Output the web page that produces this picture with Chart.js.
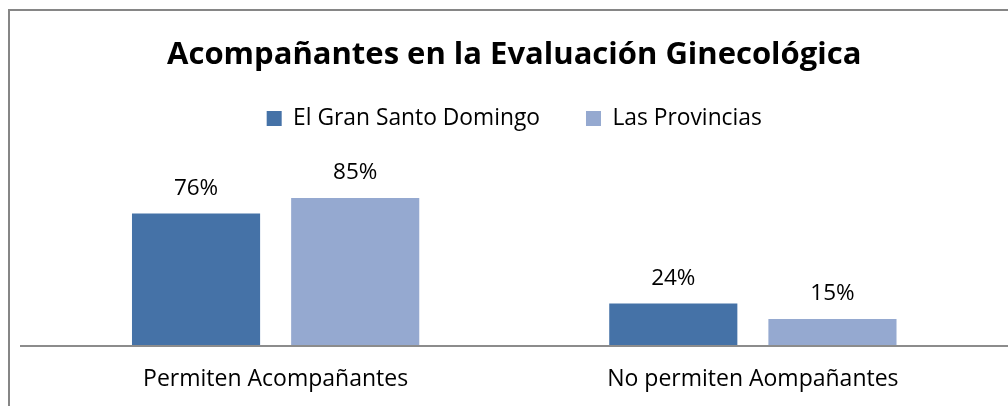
<!DOCTYPE html>
<html lang="es">
<head>
    <meta charset="UTF-8">
    <title>Acompañantes en la Evaluación Ginecológica</title>
    <style>
        html, body { margin: 0; padding: 0; background: #fff; }
        #wrap { width: 1008px; height: 406px; position: relative; }
    </style>
</head>
<body>
    <div id="wrap"><canvas id="myChart" width="1008" height="406"></canvas></div>

    <script src="https://cdn.jsdelivr.net/npm/chart.js@4"></script>
    <script>
        // data
        var categories = ['Permiten Acompañantes', 'No permiten Aompañantes'];
        var seriesNames = ['El Gran Santo Domingo', 'Las Provincias'];
        var granSantoDomingo = [76, 24];
        var provincias = [85, 15];
        var seriesColors = ['#4572A7', '#95A9D0'];

        var FONT = '"Open Sans", sans-serif';

        // frame at left/top, and the long axis line
        var framePlugin = {
            id: 'frame',
            beforeDraw: function (chart) {
                var ctx = chart.ctx;
                ctx.save();
                ctx.fillStyle = '#fff';
                ctx.fillRect(0, 0, chart.width, chart.height);
                ctx.strokeStyle = '#868686';
                ctx.lineWidth = 2;
                ctx.beginPath();
                ctx.moveTo(9, chart.height);
                ctx.lineTo(9, 10);
                ctx.lineTo(chart.width, 10);
                ctx.stroke();
                ctx.restore();
            },
            afterDatasetsDraw: function (chart) {
                var ctx = chart.ctx;
                var y = chart.scales.y.getPixelForValue(0);
                ctx.save();
                ctx.strokeStyle = '#8c8c8c';
                ctx.lineWidth = 2;
                ctx.beginPath();
                ctx.moveTo(20, y + 1);
                ctx.lineTo(chart.width, y + 1);
                ctx.stroke();
                ctx.restore();
            }
        };

        // percent labels above bars
        var valueLabels = {
            id: 'valueLabels',
            afterDatasetsDraw: function (chart) {
                var ctx = chart.ctx;
                ctx.save();
                ctx.font = '22.5px ' + FONT;
                ctx.fillStyle = '#000';
                ctx.textAlign = 'center';
                ctx.textBaseline = 'alphabetic';
                chart.data.datasets.forEach(function (ds, i) {
                    chart.getDatasetMeta(i).data.forEach(function (bar, j) {
                        ctx.fillText(ds.data[j] + '%', bar.x, bar.y - 19);
                    });
                });
                ctx.restore();
            }
        };

        new Chart(document.getElementById('myChart'), {
            type: 'bar',
            data: {
                labels: categories,
                datasets: [
                    { label: seriesNames[0], data: granSantoDomingo, backgroundColor: seriesColors[0] },
                    { label: seriesNames[1], data: provincias, backgroundColor: seriesColors[1] }
                ]
            },
            options: {
                responsive: false,
                animation: false,
                events: [],
                categoryPercentage: 0.667,
                barPercentage: 0.805,
                layout: { padding: { top: 45.5, left: 37, right: 16.5, bottom: 1.4 } },
                plugins: {
                    title: {
                        display: true,
                        text: 'Acompañantes en la Evaluación Ginecológica',
                        color: '#000',
                        font: { family: FONT, size: 31, weight: 'bold', lineHeight: 0.371 },
                        padding: { top: 4, bottom: 0 }
                    },
                    legend: {
                        display: true,
                        labels: {
                            color: '#000',
                            font: { family: FONT, size: 22.8 },
                            boxWidth: 15,
                            boxHeight: 15,
                            padding: 46
                        }
                    },
                    tooltip: { enabled: false }
                },
                scales: {
                    x: {
                        grid: { display: false, tickLength: 10 },
                        border: { display: false },
                        ticks: { color: '#000', font: { family: FONT, size: 23 }, padding: 11 }
                    },
                    y: {
                        display: false,
                        min: 0,
                        max: 118.7
                    }
                }
            },
            plugins: [framePlugin, valueLabels]
        });
    </script>
</body>
</html>
